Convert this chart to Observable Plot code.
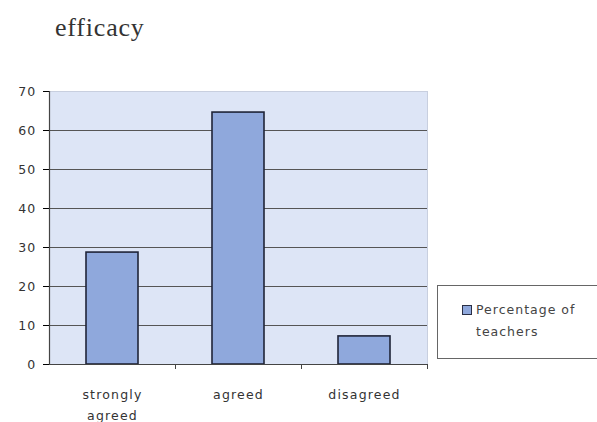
<!DOCTYPE html>
<html>
<head>
<meta charset="utf-8">
<script src="https://cdn.jsdelivr.net/npm/d3@7"></script>
<script src="https://cdn.jsdelivr.net/npm/@observablehq/plot@0.6"></script>
<style>
  html, body { margin: 0; padding: 0; background: #fff; }
  #wrap { position: relative; width: 597px; height: 422px; }
  #title { position: absolute; left: 55px; top: 13px; font-family: "Liberation Serif", "DejaVu Serif", serif; font-size: 26px; letter-spacing: 0.8px; color: #333; }
  #legend { position: absolute; left: 437px; top: 285px; width: 170px; height: 74px; border: 1px solid #666; box-sizing: border-box; font-family: "DejaVu Sans", sans-serif; font-size: 12.5px; letter-spacing: 1px; color: #444; }
  #legend .sw { position: absolute; left: 24px; top: 19px; width: 8px; height: 8px; background: #8fa8dc; border: 1.5px solid #2a2f45; }
  #legend .tx { position: absolute; left: 38px; top: 13px; line-height: 22px; }
  svg g[aria-label="x-axis tick label"] text { letter-spacing: 1.2px; }
  svg g[aria-label="y-axis tick label"] text { letter-spacing: 1.2px; }
</style>
</head>
<body>
<div id="wrap">
  <div id="title">efficacy</div>
  <div id="legend"><div class="sw"></div><div class="tx">Percentage of<br>teachers</div></div>
</div>
<script>
const categories = ["strongly agreed", "agreed", "disagreed"];
const tickLabels = ["strongly\nagreed", "agreed", "disagreed"];
const values = [28.7, 64.6, 7.2];
const yTicks = [0, 10, 20, 30, 40, 50, 60, 70];
const seriesName = "Percentage of teachers";

const data = categories.map((c, i) => ({category: c, value: values[i]}));

const chart = Plot.plot({
  width: 597,
  height: 422,
  marginLeft: 49,
  marginRight: 170,
  marginTop: 91,
  marginBottom: 58,
  style: {fontFamily: "DejaVu Sans, sans-serif", background: "transparent"},
  x: {domain: categories, paddingInner: 0.59, paddingOuter: 0.295, label: null},
  y: {domain: [0, 70], ticks: yTicks, label: null},
  marks: [
    Plot.frame({fill: "#dde5f6", stroke: "#c8cfdf"}),
    Plot.gridY(yTicks.filter(t => t > 0 && t < 70), {stroke: "#555", strokeOpacity: 1, strokeWidth: 1.2}),
    Plot.barY(data, {x: "category", y: "value", fill: "#8fa8dc", stroke: "#1f2438", strokeWidth: 1.6}),
    Plot.ruleY([0], {stroke: "#444", strokeWidth: 1.2}),
    Plot.ruleX([categories[0]], {dx: -63, stroke: "#444", strokeWidth: 1.2}),
    Plot.ruleX(categories, {dx: 63, y1: 0, y2: 0, insetBottom: -5, stroke: "#444"}),
    Plot.axisY({ticks: yTicks, tickSize: 6, fontSize: 12.5, fill: "#333", tickPadding: 7}),
    Plot.axisX({tickSize: 0, tickFormat: (d) => tickLabels[categories.indexOf(d)], fontSize: 12.5, fill: "#333", lineHeight: 1.7, tickPadding: 19})
  ]
});
chart.style.position = "absolute";
chart.style.left = "0";
chart.style.top = "0";
document.getElementById("wrap").prepend(chart);
</script>
</body>
</html>
